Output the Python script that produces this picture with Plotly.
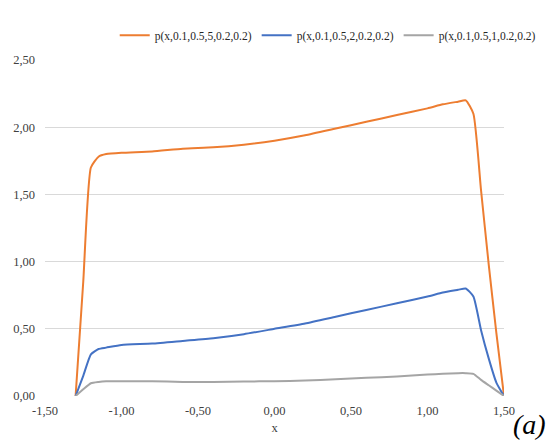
import plotly.graph_objects as go

# Sample points of the three densities p(x, 0.1, 0.5, k, 0.2, 0.2)
x_vals = [-1.30, -1.25, -1.20, -1.15, -1.10, -1.00, -0.80, -0.60, -0.40, -0.20,
          0.00, 0.20, 0.40, 0.60, 0.80, 1.00, 1.10, 1.20, 1.25, 1.30,
          1.35, 1.40, 1.45, 1.50]

p_k5 = [0.00, 0.85, 1.70, 1.78, 1.80, 1.81, 1.82, 1.84, 1.85, 1.87,
        1.90, 1.94, 1.99, 2.04, 2.09, 2.14, 2.17, 2.19, 2.20, 2.10,
        1.53, 0.98, 0.47, 0.00]

p_k2 = [0.00, 0.15, 0.31, 0.35, 0.36, 0.38, 0.39, 0.41, 0.43, 0.46,
        0.50, 0.54, 0.59, 0.64, 0.69, 0.74, 0.77, 0.79, 0.80, 0.74,
        0.49, 0.28, 0.10, 0.00]

p_k1 = [0.00, 0.05, 0.095, 0.105, 0.11, 0.11, 0.11, 0.105, 0.105, 0.108,
        0.11, 0.115, 0.125, 0.135, 0.145, 0.16, 0.165, 0.17, 0.17, 0.165,
        0.12, 0.08, 0.04, 0.00]

series_names = ["p(x,0.1,0.5,5,0.2,0.2)", "p(x,0.1,0.5,2,0.2,0.2)", "p(x,0.1,0.5,1,0.2,0.2)"]
series_colors = ["#ED7D31", "#4472C4", "#A5A5A5"]

x_ticks = [-1.5, -1.0, -0.5, 0.0, 0.5, 1.0, 1.5]
x_tick_labels = ["-1,50", "-1,00", "-0,50", "0,00", "0,50", "1,00", "1,50"]
y_ticks = [0.0, 0.5, 1.0, 1.5, 2.0, 2.5]
y_tick_labels = ["0,00", "0,50", "1,00", "1,50", "2,00", "2,50"]

serif = "Liberation Serif, Times New Roman, serif"
label_color = "#404040"

fig = go.Figure()
for name, vals, color in zip(series_names, [p_k5, p_k2, p_k1], series_colors):
    fig.add_trace(go.Scatter(
        x=x_vals, y=vals, name=name, mode="lines",
        line=dict(color=color, width=2, shape="spline", smoothing=0.5),
    ))

fig.update_layout(
    width=554, height=441,
    margin=dict(l=45, r=50, t=60, b=45),
    paper_bgcolor="white", plot_bgcolor="white",
    font=dict(family=serif, size=12.5, color=label_color),
    showlegend=True,
    legend=dict(orientation="h", x=1.08, xanchor="right", y=1.074, yanchor="middle",
                font=dict(family=serif, size=11.5, color="#262626"),
                itemwidth=30, bgcolor="rgba(0,0,0,0)"),
    xaxis=dict(range=[-1.5, 1.5], tickvals=x_ticks, ticktext=x_tick_labels,
               showgrid=False, zeroline=False, showline=False, automargin=False,
               ticks="", ticklabelstandoff=5,
               tickfont=dict(family=serif, size=12.5, color=label_color),
               title=dict(text="x", font=dict(family=serif, size=12.5, color=label_color),
                          standoff=6)),
    yaxis=dict(range=[0, 2.5], tickvals=y_ticks, ticktext=y_tick_labels,
               showgrid=True, gridcolor="#D9D9D9", gridwidth=1, automargin=False,
               zeroline=False, showline=False, ticks="", ticklabelstandoff=9,
               tickfont=dict(family=serif, size=12.5, color=label_color)),
    annotations=[dict(text="<i>(a)</i>", xref="paper", yref="paper",
                      x=1.095, y=-0.085, xanchor="right", yanchor="middle",
                      showarrow=False, font=dict(family=serif, size=28, color="black"))],
)

fig.write_html("out.html")
